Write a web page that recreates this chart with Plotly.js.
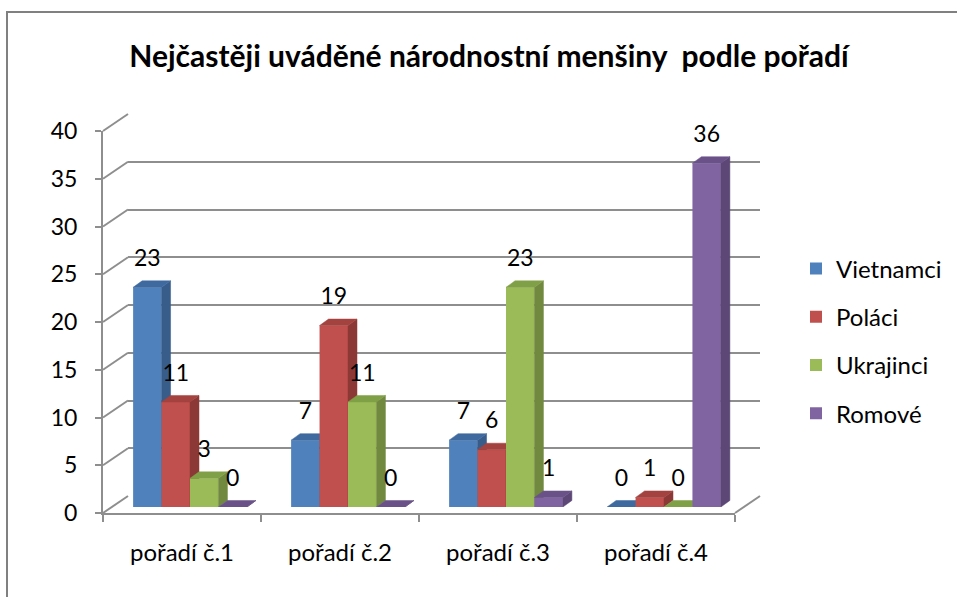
<!DOCTYPE html>
<html>
<head>
<meta charset="utf-8">
<script src="https://cdn.plot.ly/plotly-3.0.1.min.js"></script>
<style>html,body{margin:0;padding:0;background:#fff;}#chart{width:957px;height:597px;}</style>
</head>
<body>
<div id="chart"></div>
<script>
// ---- data ----
const categories = ['pořadí č.1', 'pořadí č.2', 'pořadí č.3', 'pořadí č.4'];
const seriesNames = ['Vietnamci', 'Poláci', 'Ukrajinci', 'Romové'];
const vietnamci = [23, 7, 7, 0];
const polaci = [11, 19, 6, 1];
const ukrajinci = [3, 11, 23, 0];
const romove = [0, 0, 1, 36];
const yTicks = [0, 5, 10, 15, 20, 25, 30, 35, 40];
const titleText = 'Nejčastěji uváděné národnostní menšiny\u00a0 podle pořadí';

// ---- styling ----
const frontColors = ['#4f81bd', '#c0504d', '#9bbb59', '#8064a2'];
const sideColors  = ['#385d8a', '#8c3836', '#71893f', '#5c4776'];
const topColors   = ['#3f6aa0', '#a3423f', '#80a047', '#6a5289'];
const FONT = 'Lato, "Open Sans", sans-serif';
const GRID = '#8e8e8e';

const W = 957, H = 597;
const FX0 = 103, FX1 = 735, FY0 = 513, FY1 = 131;   // front plane (px)
const BDX = 25, BDY = 17;                           // back wall offset (px)
const PDX = 8, PDY = 6;                             // bar plane offset (px)
const DX = 9, DY = 6.5;                             // bar depth (px)
const G = 0.72;                                     // group width (category units)
const LABEL_PX = 27;

const xu = categories.length / (FX1 - FX0);
const yu = 40 / (FY0 - FY1);
const dxU = DX * xu, dyU = DY * yu;
const bw = G / seriesNames.length;
const px = v => v / W, py = v => 1 - v / H;

const seriesVals = [vietnamci, polaci, ukrajinci, romove];
const idx = categories.map((c, i) => i);

const data = [];
// back wall grid subplot (xy)
data.push({type: 'scatter', x: [0.5], y: [0], mode: 'markers', marker: {opacity: 0},
  hoverinfo: 'skip', showlegend: false, xaxis: 'x', yaxis: 'y'});
// front axes subplot (x2y2)
data.push({type: 'scatter', x: categories, y: categories.map(() => 0), mode: 'markers', marker: {opacity: 0},
  hoverinfo: 'skip', showlegend: false, xaxis: 'x2', yaxis: 'y2'});

seriesVals.forEach((vals, s) => {
  const n = 3 + s;
  const xa = 'x' + n, ya = 'y' + n;
  const off = -G / 2 + s * bw;
  data.push({type: 'bar', name: seriesNames[s], x: idx, y: vals, width: bw, offset: off,
    marker: {color: frontColors[s], line: {width: 0}}, xaxis: xa, yaxis: ya,
    legendgroup: seriesNames[s], hoverinfo: 'y+name'});
  vals.forEach((v, i) => {
    const x0 = i + off, x1 = x0 + bw;
    data.push({type: 'scatter', mode: 'lines', fill: 'toself', fillcolor: sideColors[s],
      line: {color: sideColors[s], width: 0.5},
      x: [x1, x1 + dxU, x1 + dxU, x1, x1], y: [0, dyU, v + dyU, v, 0],
      xaxis: xa, yaxis: ya, hoverinfo: 'skip', showlegend: false, legendgroup: seriesNames[s]});
    data.push({type: 'scatter', mode: 'lines', fill: 'toself', fillcolor: topColors[s],
      line: {color: topColors[s], width: 0.5},
      x: [x0, x0 + dxU, x1 + dxU, x1, x0], y: [v, v + dyU, v + dyU, v, v],
      xaxis: xa, yaxis: ya, hoverinfo: 'skip', showlegend: false, legendgroup: seriesNames[s]});
  });
});
// data labels on top of everything
seriesVals.forEach((vals, s) => {
  const off = -G / 2 + s * bw;
  data.push({type: 'scatter', mode: 'text', x: idx.map(i => i + off + bw / 2),
    y: vals.map(v => v + LABEL_PX * yu), text: vals.map(String), textposition: 'middle center',
    textfont: {family: FONT, size: 23, color: '#000'}, cliponaxis: false,
    xaxis: 'x6', yaxis: 'y6', hoverinfo: 'skip', showlegend: false, legendgroup: seriesNames[s]});
});

const layout = {
  width: W, height: H, margin: {l: 0, r: 0, t: 0, b: 0},
  paper_bgcolor: '#fff', plot_bgcolor: 'rgba(0,0,0,0)',
  barmode: 'overlay', showlegend: true,
  title: {text: titleText, x: 489 / W, xanchor: 'center', y: py(56), yanchor: 'middle',
    font: {family: FONT, size: 30, color: '#000', weight: 'bold'}},
  legend: {x: px(796), xanchor: 'left', y: py(341), yanchor: 'middle', traceorder: 'grouped',
    tracegroupgap: 14, font: {family: FONT, size: 24, color: '#000'}, bgcolor: 'rgba(0,0,0,0)'},
  xaxis: {domain: [px(FX0 + BDX), px(FX1 + BDX)], range: [0, 1], visible: false, anchor: 'y', fixedrange: true},
  yaxis: {domain: [py(FY0 - BDY), py(FY1 - BDY)], range: [0, 40], tickmode: 'array', tickvals: yTicks,
    showticklabels: false, ticks: '', showgrid: true, gridcolor: GRID, gridwidth: 2, zeroline: false,
    showline: false, anchor: 'x', fixedrange: true},
  xaxis2: {domain: [px(FX0), px(FX1)], type: 'category', categoryarray: categories, range: [-0.5, 3.5],
    tickson: 'boundaries', ticks: 'outside', ticklen: 7, tickwidth: 2, tickcolor: GRID,
    showline: true, linecolor: GRID, linewidth: 2, showgrid: false, zeroline: false, anchor: 'y2',
    tickfont: {family: FONT, size: 24, color: '#000'}, ticklabelstandoff: 17, fixedrange: true},
  yaxis2: {domain: [py(FY0), py(FY1)], range: [0, 40], tickmode: 'array', tickvals: yTicks,
    ticks: 'outside', ticklen: 6, tickwidth: 2, tickcolor: GRID, showline: true, linecolor: GRID, linewidth: 2,
    showgrid: false, zeroline: false, anchor: 'x2', tickfont: {family: FONT, size: 23, color: '#000'},
    ticklabelstandoff: 13, fixedrange: true},
  shapes: []
};
for (let s = 0; s < seriesNames.length; s++) {
  const n = 3 + s;
  if (s === 0) {
    layout['xaxis' + n] = {domain: [px(FX0 + PDX), px(FX1 + PDX)], range: [-0.5, 3.5], visible: false, anchor: 'y' + n, fixedrange: true};
    layout['yaxis' + n] = {domain: [py(FY0 - PDY), py(FY1 - PDY)], range: [0, 40], visible: false, anchor: 'x' + n, fixedrange: true};
  } else {
    layout['xaxis' + n] = {overlaying: 'x3', range: [-0.5, 3.5], visible: false, anchor: 'y' + n, fixedrange: true};
    layout['yaxis' + n] = {overlaying: 'y3', range: [0, 40], visible: false, anchor: 'x' + n, fixedrange: true};
  }
}
// left wall diagonals
const yf = v => FY0 - (FY0 - FY1) * v / 40;
yTicks.forEach(v => {
  layout.shapes.push({type: 'line', xref: 'paper', yref: 'paper', x0: px(FX0), y0: py(yf(v)),
    x1: px(FX0 + BDX), y1: py(yf(v) - BDY), line: {color: GRID, width: 2}, layer: 'below'});
});
// right floor diagonal
layout.shapes.push({type: 'line', xref: 'paper', yref: 'paper', x0: px(FX1), y0: py(FY0),
  x1: px(FX1 + BDX), y1: py(FY0 - BDY), line: {color: GRID, width: 2}, layer: 'below'});
// outer frame
layout.shapes.push({type: 'rect', xref: 'paper', yref: 'paper', x0: px(7), y0: py(12), x1: 1.05, y1: -0.05,
  line: {color: '#808080', width: 2}, fillcolor: 'rgba(0,0,0,0)', layer: 'above'});

Plotly.newPlot('chart', data, layout, {displayModeBar: false});
</script>
</body>
</html>
